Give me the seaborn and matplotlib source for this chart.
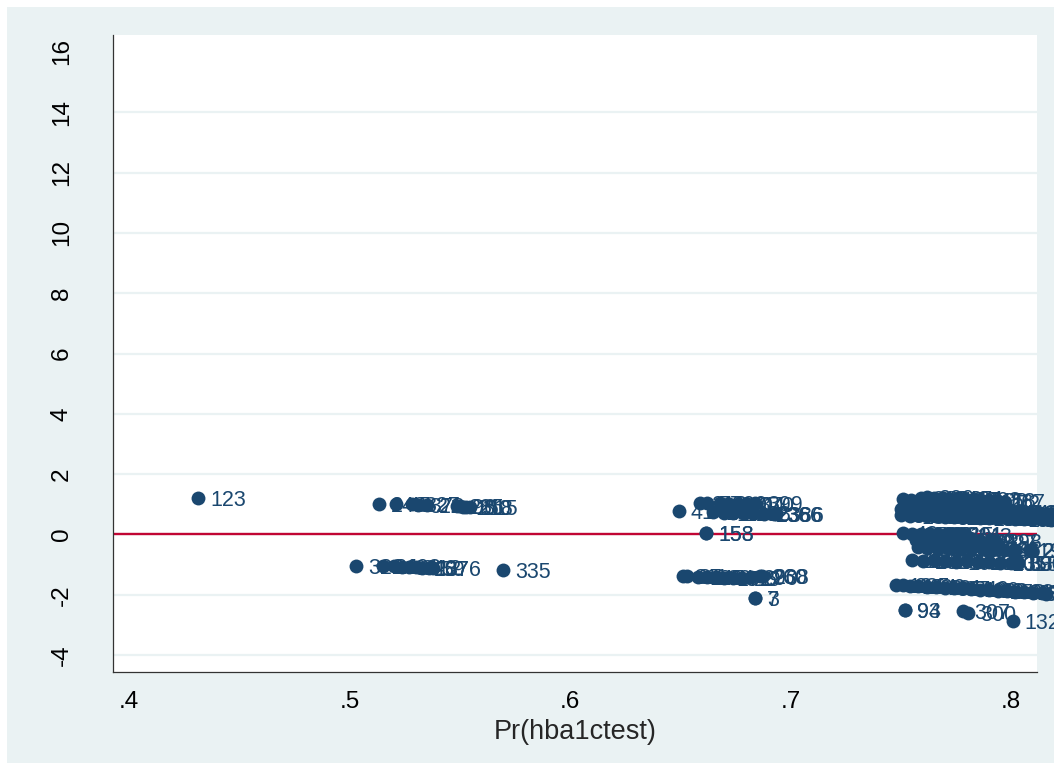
import matplotlib
matplotlib.use("Agg")
import matplotlib.pyplot as plt
from matplotlib.patches import Rectangle
import seaborn as sns
import pandas as pd

# ---------------- data ----------------
# predicted probability Pr(hba1ctest)
x_vals = [
    0.4313,
    # upper middle group
    0.5134, 0.5211, 0.5283, 0.5310, 0.5350, 0.5488, 0.5500, 0.5515, 0.5530, 0.5546,
    # lower middle group
    0.5030, 0.5150, 0.5200, 0.5240, 0.5270, 0.5300, 0.5330, 0.5360, 0.5379,
    0.5696,
    # .65-.70 upper
    0.6494, 0.6590, 0.6620, 0.6650, 0.6680, 0.6700, 0.6720, 0.6740, 0.6760, 0.6790,
    0.6800, 0.6830, 0.6839, 0.6880, 0.6925, 0.6935,
    0.6617, 0.6618,
    # .65-.70 lower
    0.6512, 0.6530, 0.6580, 0.6620, 0.6660, 0.6700, 0.6740, 0.6780, 0.6820, 0.6860, 0.6870,
    0.6840, 0.6841,
    # right cluster: top band
    0.7510, 0.7545, 0.7590, 0.7620, 0.7650, 0.7690, 0.7720, 0.7760, 0.7790, 0.7830,
    0.7860, 0.7900, 0.7940, 0.7975,
    # right cluster: row A
    0.7500, 0.7530, 0.7570, 0.7610, 0.7650, 0.7690, 0.7730, 0.7770, 0.7810, 0.7850,
    0.7890, 0.7930, 0.7970, 0.8010, 0.8050, 0.8090, 0.8130, 0.8170, 0.8200,
    # right cluster: row B
    0.7500, 0.7540, 0.7580, 0.7620, 0.7660, 0.7700, 0.7740, 0.7780, 0.7820, 0.7860,
    0.7900, 0.7940, 0.7980, 0.8020, 0.8060, 0.8100, 0.8140, 0.8180,
    # right cluster: near zero
    0.7510, 0.7550, 0.7590, 0.7630, 0.7670, 0.7710, 0.7750, 0.7790,
    0.7570, 0.7610, 0.7650, 0.7700, 0.7740, 0.7780, 0.7820, 0.7860, 0.7900, 0.7927,
    # right cluster: -0.45 row
    0.7578, 0.7620, 0.7670, 0.7720, 0.7770, 0.7820, 0.7870, 0.7920, 0.7970, 0.8020,
    0.8085, 0.8090,
    # right cluster: -0.9 row
    0.7550, 0.7600, 0.7650, 0.7700, 0.7750, 0.7800, 0.7850, 0.7900, 0.7950, 0.8000,
    0.8025, 0.8030,
    # right cluster: bottom band
    0.7480, 0.7510, 0.7540, 0.7580, 0.7620, 0.7660, 0.7700, 0.7740, 0.7780, 0.7820,
    0.7860, 0.7900, 0.7940, 0.7980, 0.8020, 0.8060, 0.8100, 0.8140, 0.8160,
    # stragglers
    0.7520, 0.7521, 0.7782, 0.7805, 0.8009,
]

# residuals
y_vals = [
    1.22,
    1.02, 1.00, 1.00, 0.99, 0.97, 0.93, 0.93, 0.92, 0.92, 0.91,
    -1.03, -1.05, -1.06, -1.07, -1.08, -1.09, -1.10, -1.11, -1.12,
    -1.17,
    0.77, 1.03, 1.05, 0.73, 1.04, 0.72, 1.02, 0.71, 1.02, 0.70,
    1.01, 0.70, 1.04, 0.69, 0.68, 0.67,
    0.06, 0.05,
    -1.37, -1.38, -1.40, -1.41, -1.42, -1.43, -1.44, -1.44, -1.40, -1.37, -1.37,
    -2.10, -2.10,
    1.18, 1.15, 1.22, 1.25, 1.20, 1.21, 1.18, 1.20, 1.17, 1.16,
    1.14, 1.13, 1.10, 1.08,
    0.85, 0.83, 0.86, 0.84, 0.83, 0.82, 0.81, 0.80, 0.79, 0.78,
    0.77, 0.76, 0.75, 0.74, 0.73, 0.72, 0.70, 0.69, 0.68,
    0.64, 0.62, 0.63, 0.61, 0.60, 0.59, 0.58, 0.58, 0.57, 0.56,
    0.55, 0.54, 0.53, 0.52, 0.51, 0.51, 0.50, 0.49,
    0.04, 0.02, 0.03, 0.01, 0.00, 0.02, 0.00, -0.01,
    -0.20, -0.22, -0.18, -0.21, -0.20, -0.23, -0.21, -0.22, -0.24, -0.22,
    -0.40, -0.44, -0.46, -0.45, -0.47, -0.48, -0.46, -0.49, -0.50, -0.51,
    -0.50, -0.52,
    -0.85, -0.88, -0.86, -0.89, -0.90, -0.88, -0.91, -0.92, -0.93, -0.94,
    -0.95, -0.96,
    -1.67, -1.69, -1.70, -1.72, -1.73, -1.75, -1.76, -1.78, -1.79, -1.81,
    -1.83, -1.85, -1.86, -1.88, -1.90, -1.92, -1.93, -1.95, -1.96,
    -2.49, -2.50, -2.55, -2.60, -2.88,
]

# observation numbers used as marker labels
obs_labels = [
    "123",
    "243", "45", "327", "379", "21", "285", "96", "150", "218", "315",
    "322", "24", "198", "61", "340", "112", "287", "59", "376",
    "335",
    "41", "212", "77", "183", "290", "15", "351", "263", "104", "298",
    "370", "52", "399", "236", "366", "386",
    "153", "158",
    "311", "37", "145", "204", "88", "172", "319", "26", "290", "260", "238",
    "3", "7",
    "118", "274", "31", "209", "66", "342", "129", "251", "17", "303",
    "190", "158", "267", "72",
    "11", "64", "233", "147", "82", "390", "201", "35", "316", "170",
    "94", "281", "57", "348", "126", "205", "361", "18", "247",
    "8", "139", "292", "50", "221", "373", "106", "264", "33", "187",
    "355", "99", "241", "14", "308", "166", "372", "254",
    "42", "279", "120", "336", "69", "215", "301", "143",
    "25", "257", "80", "364", "133", "246", "191", "39", "327", "298",
    "68", "229", "141", "312", "53", "277", "162", "345", "86", "219",
    "26", "28",
    "117", "282", "44", "357", "193", "73", "239", "321", "101", "358",
    "390", "330",
    "12", "235", "154", "296", "63", "181", "324", "97", "249", "136",
    "368", "20", "273", "108", "343", "195", "61", "273", "84",
    "93", "94", "307", "300", "132",
]

df = pd.DataFrame({"phat": x_vals, "resid": y_vals, "obs": obs_labels})

# ---------------- style ----------------
NAVY = "#1A476F"
BG = "#EAF2F3"
RED = "#C10534"

sns.set_theme(style="white")
plt.rcParams["font.family"] = ["Liberation Sans", "DejaVu Sans"]

fig = plt.figure(figsize=(10.54, 7.71), dpi=100)
fig.patch.set_facecolor("white")
fig.patches.append(Rectangle((7 / 1054, 8 / 771), 1 - 7 / 1054, (763 - 7) / 771,
                             transform=fig.transFigure, facecolor=BG,
                             edgecolor="none", zorder=-5))

ax = fig.add_axes([113 / 1054, 1 - 672 / 771, (1037 - 113) / 1054, (672 - 35) / 771])
ax.set_zorder(2)
ax.set_facecolor("white")

yticks = [-4, -2, 0, 2, 4, 6, 8, 10, 12, 14, 16]
for yt in yticks[:-1]:
    ax.axhline(yt, color=BG, lw=1.6, zorder=0.5)

ax.axhline(0, color=RED, lw=1.7, zorder=1)

sns.scatterplot(data=df, x="phat", y="resid", color=NAVY, s=100, linewidth=0,
                ax=ax, clip_on=False, zorder=3, legend=False)

for xv, yv, lab in zip(df["phat"], df["resid"], df["obs"]):
    ax.annotate(lab, (xv, yv), xytext=(8.5, 0), textcoords="offset points",
                ha="left", va="center_baseline", fontsize=15.5, color=NAVY,
                annotation_clip=False, zorder=4)

ax.set_xlim(0.3927, 0.8118)
ax.set_ylim(-4.56, 16.56)

xticks = [0.4, 0.5, 0.6, 0.7, 0.8]
ax.set_xticks(xticks)
ax.set_xticklabels([".4", ".5", ".6", ".7", ".8"])
ax.set_yticks(yticks)
ax.set_yticklabels([str(v) for v in yticks], rotation=90, va="center")

ax.tick_params(axis="both", direction="out", length=8, width=0.9, color="#333333",
               labelsize=17.5, labelcolor="black")
ax.tick_params(axis="y", pad=21)
ax.tick_params(axis="x", pad=6)

for side in ["top", "right"]:
    ax.spines[side].set_visible(False)
for side in ["left", "bottom"]:
    ax.spines[side].set_color("#333333")
    ax.spines[side].set_linewidth(0.9)

ax.set_xlabel("Pr(hba1ctest)", fontsize=19.5, labelpad=4)
ax.set_ylabel("")

fig.savefig("out.png", dpi=100)
